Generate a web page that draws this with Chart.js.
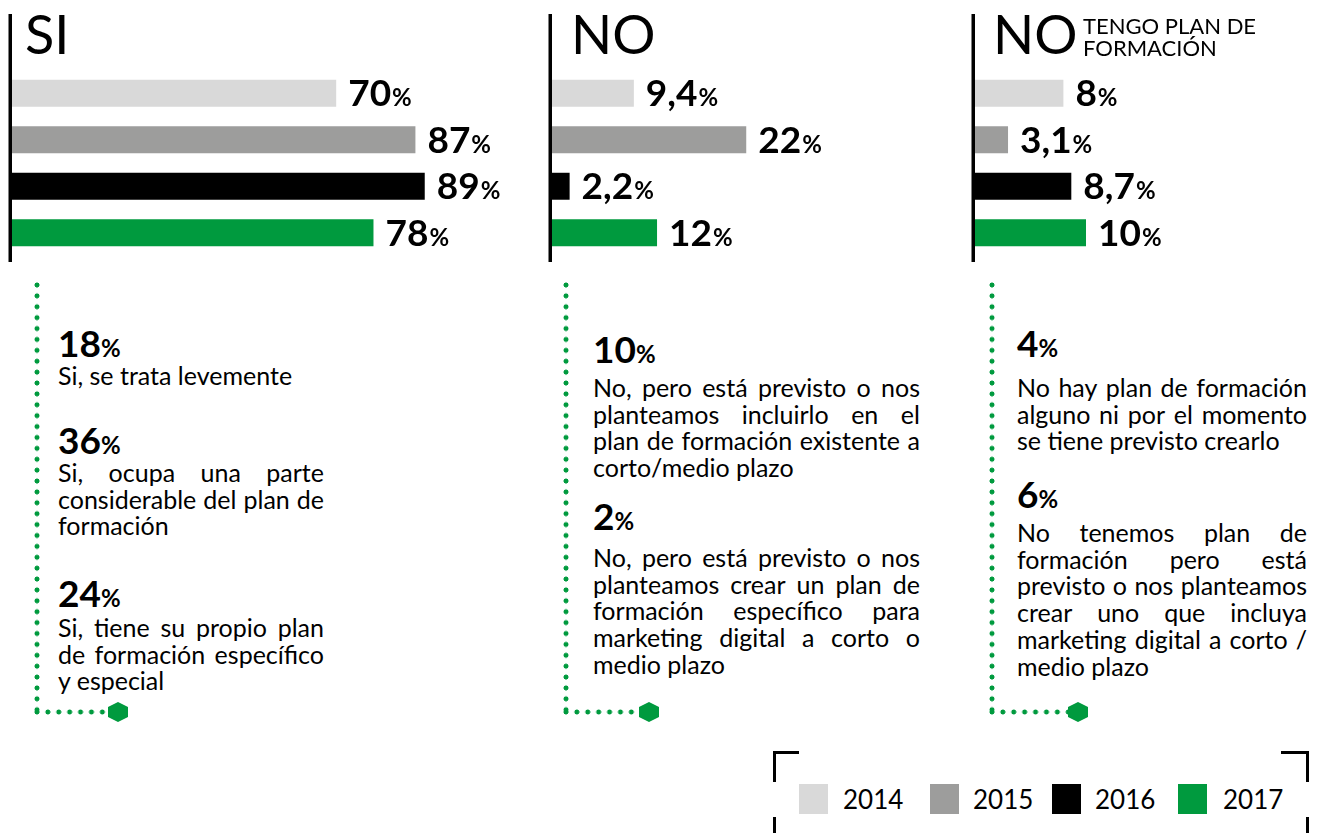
<!DOCTYPE html>
<html lang="es">
<head>
<meta charset="utf-8">
<title>Plan de formación – marketing digital</title>
<script src="https://cdn.jsdelivr.net/npm/chart.js@4.4.1/dist/chart.umd.min.js"></script>
<style>
  html, body { margin: 0; padding: 0; background: #fff; }
  body { width: 1321px; height: 833px; overflow: hidden; position: relative; font-family: Lato, 'Open Sans', sans-serif; color: #000; }
  canvas { position: absolute; top: 0; }
  .title { position: absolute; top: 1px; font-weight: 400; font-size: 54px; line-height: 66px; }
  .subtitle { position: absolute; font-size: 22px; line-height: 22px; }
  .num { position: absolute; font-weight: 700; font-size: 37px; line-height: 30px; white-space: nowrap; }
  .num small { font-size: 24px; }
  .txt { position: absolute; font-size: 25px; line-height: 26.7px; }
  .txt .j { display: flex; justify-content: space-between; white-space: nowrap; }
  .txt .l { white-space: nowrap; }
  .vdots { position: absolute; width: 6px;
    background: radial-gradient(circle at 3px 3px, #009a3e 2.2px, transparent 2.8px) 0 0 / 6px 10.9px repeat-y; }
  .hdots { position: absolute; height: 6px;
    background: radial-gradient(circle at 3px 3px, #009a3e 2.2px, transparent 2.8px) 0 0 / 10.9px 6px repeat-x; }
  .hex { position: absolute; width: 20px; height: 20px; background: #009a3e;
    clip-path: polygon(50% 0, 100% 25%, 100% 75%, 50% 100%, 0 75%, 0 25%); }
  .brk { position: absolute; background: #000; }
  .lg-box { position: absolute; width: 29px; height: 30px; }
  .lg-txt { position: absolute; font-size: 26px; line-height: 30px; }
</style>
</head>
<body>
<script>
// Series: one bar per year in each panel
const years = ['2014', '2015', '2016', '2017'];
const yearColours = ['#d9d9d9', '#9d9d9c', '#000000', '#009a3e'];

const siValues     = [70, 87, 89, 78];
const noValues     = [9.4, 22, 2.2, 12];
const noPlanValues = [8, 3.1, 8.7, 10];

// Breakdown of the latest year, shown under each panel
const siDetailValues = [18, 36, 24];
const siDetailTexts = [
  ['Si, se trata levemente'],
  ['Si, ocupa una parte', 'considerable del plan de', 'formación'],
  ['Si, tiene su propio plan', 'de formación específico', 'y especial'],
];
const noDetailValues = [10, 2];
const noDetailTexts = [
  ['No, pero está previsto o nos', 'planteamos incluirlo en el', 'plan de formación existente a', 'corto/medio plazo'],
  ['No, pero está previsto o nos', 'planteamos crear un plan de', 'formación específico para', 'marketing digital a corto o', 'medio plazo'],
];
const noPlanDetailValues = [4, 6];
const noPlanDetailTexts = [
  ['No hay plan de formación', 'alguno ni por el momento', 'se tiene previsto crearlo'],
  ['No tenemos plan de', 'formación pero está', 'previsto o nos planteamos', 'crear uno que incluya', 'marketing digital a corto /', 'medio plazo'],
];

// Layout of the three panels (pixels)
const panels = [
  { title: 'SI', values: siValues, max: 100, left: 0, width: 540, plotW: 466, titleX: 25,
    dotX: 37, hexX: 118, detailX: 58, detailW: 266,
    details: siDetailValues, texts: siDetailTexts,
    numBase: [357, 454, 607], txtBase: [385, 482, 637] },
  { title: 'NO', values: noValues, max: 25, left: 540, width: 400, plotW: 223, titleX: 571,
    dotX: 566, hexX: 649, detailX: 593, detailW: 327,
    details: noDetailValues, texts: noDetailTexts,
    numBase: [363, 530], txtBase: [397, 567] },
  { title: 'NO', values: noPlanValues, max: 20, left: 963, width: 358, plotW: 226, titleX: 993,
    subtitle: ['TENGO PLAN DE', 'FORMACIÓN'],
    dotX: 992, hexX: 1078, detailX: 1017, detailW: 290,
    details: noPlanDetailValues, texts: noPlanDetailTexts,
    numBase: [357, 508], txtBase: [397, 542] },
];

const fmt = v => String(v).replace('.', ',');

function el(tag, cls, css, html) {
  const e = document.createElement(tag);
  if (cls) e.className = cls;
  Object.assign(e.style, css || {});
  if (html !== undefined) e.innerHTML = html;
  document.body.appendChild(e);
  return e;
}

// Axis line + value labels, drawn after the bars
const panelDecor = {
  id: 'panelDecor',
  afterDatasetsDraw(chart) {
    const ctx = chart.ctx;
    const xs = chart.scales.x;
    const meta = chart.getDatasetMeta(0);
    const vals = chart.data.datasets[0].data;
    ctx.save();
    ctx.fillStyle = '#000';
    ctx.fillRect(chart.chartArea.left - 1.5, 14, 3.5, 248);
    ctx.textBaseline = 'alphabetic';
    ctx.textAlign = 'left';
    meta.data.forEach((bar, i) => {
      const x = xs.getPixelForValue(vals[i]) + 12;
      const y = bar.y + 13;
      ctx.font = '700 37px Lato';
      const s = fmt(vals[i]);
      ctx.fillText(s, x, y);
      const w = ctx.measureText(s).width;
      ctx.font = '700 24px Lato';
      ctx.fillText('%', x + w + 1, y);
    });
    ctx.restore();
  },
};

panels.forEach(p => {
  const cv = el('canvas', '', { left: p.left + 'px' });
  cv.width = p.width;
  cv.height = 270;

  new Chart(cv, {
    type: 'bar',
    data: {
      labels: years,
      datasets: [{
        data: p.values,
        backgroundColor: yearColours,
        borderWidth: 0,
        barPercentage: 0.58,
        categoryPercentage: 1,
      }],
    },
    options: {
      indexAxis: 'y',
      responsive: false,
      animation: false,
      layout: { padding: { left: 10, right: p.width - 10 - p.plotW, top: 70, bottom: 14 } },
      plugins: { legend: { display: false }, tooltip: { enabled: false } },
      scales: {
        x: { display: false, min: 0, max: p.max },
        y: { display: false },
      },
    },
    plugins: [panelDecor],
  });

  el('div', 'title', { left: p.titleX + 'px' }, p.title);
  if (p.subtitle) {
    el('div', 'subtitle', { left: '1083px', top: '15px' }, p.subtitle.join('<br>'));
  }

  // dotted connector
  el('div', 'vdots', { left: (p.dotX - 3) + 'px', top: '282px', height: '433px' });
  el('div', 'hdots', { left: (p.dotX - 3) + 'px', top: '709px', width: (p.hexX - p.dotX - 4) + 'px' });
  el('div', 'hex', { left: (p.hexX - 10) + 'px', top: '702px' });

  p.details.forEach((v, i) => {
    el('div', 'num', { left: p.detailX + 'px', top: (p.numBase[i] - 29) + 'px' }, v + '<small>%</small>');
    const lines = p.texts[i];
    const html = lines.map((ln, k) => k < lines.length - 1
      ? '<div class="j">' + ln.split(' ').map(w => '<span>' + w + '</span>').join('') + '</div>'
      : '<div class="l">' + ln + '</div>').join('');
    el('div', 'txt', { left: p.detailX + 'px', width: p.detailW + 'px', top: (p.txtBase[i] - 23) + 'px' }, html);
  });
});

// Legend with corner brackets
[
  { left: 773, top: 751, width: 3, height: 31 }, { left: 773, top: 751, width: 26, height: 3 },
  { left: 1306, top: 751, width: 3, height: 31 }, { left: 1281, top: 751, width: 28, height: 3 },
  { left: 773, top: 817, width: 3, height: 30 }, { left: 1306, top: 817, width: 3, height: 30 },
].forEach(b => el('div', 'brk', { left: b.left + 'px', top: b.top + 'px', width: b.width + 'px', height: b.height + 'px' }));

const legendBoxX = [799, 930, 1052, 1178];
const legendTxtX = [843, 973, 1095, 1223];
years.forEach((y, i) => {
  el('div', 'lg-box', { left: legendBoxX[i] + 'px', top: '784px', background: yearColours[i] });
  el('div', 'lg-txt', { left: legendTxtX[i] + 'px', top: '784px' }, y);
});
</script>
</body>
</html>
